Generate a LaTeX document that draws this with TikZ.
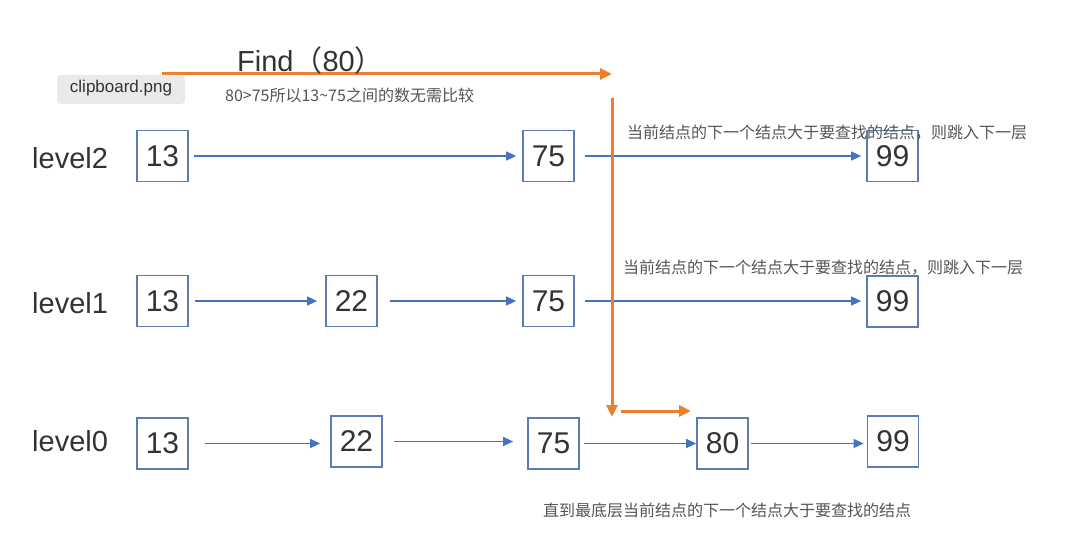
\documentclass[tikz,border=0pt]{standalone}
\usepackage{fontspec}
\setmainfont{Liberation Sans}
\newfontfamily\cjkf{Noto Sans CJK SC}
\usetikzlibrary{arrows.meta,shadows}
\definecolor{boxblue}{HTML}{5B7DB5}
\definecolor{arrblue}{HTML}{4472C4}
\definecolor{orng}{HTML}{ED7D31}
\definecolor{txtdark}{HTML}{333333}
\definecolor{txtgray}{HTML}{555555}
\definecolor{tipfill}{HTML}{ECE9EA}
\begin{document}
\begin{tikzpicture}[x=1pt,y=-1pt,
  nodebox/.style={draw=boxblue,line width=1.7pt,minimum width=51pt,minimum height=51pt,inner sep=0pt,text=txtdark,font=\fontsize{30}{34}\selectfont},
  lvl/.style={anchor=base west,inner sep=0pt,text=txtdark,font=\fontsize{29}{34}\selectfont},
  note/.style={anchor=west,inner sep=0pt,text=txtgray,font=\cjkf\fontsize{16}{18}\selectfont},
  barr/.style={draw=arrblue,line width=1.4pt,-{Triangle[length=10pt,width=9pt]}},
  oarr/.style={draw=orng,line width=3pt,-{Triangle[length=12pt,width=11pt]}},
  tooltip/.style={fill=tipfill,rounded corners=4pt,minimum width=128pt,minimum height=27pt,inner sep=0pt,text=txtdark,font=\fontsize{17}{20}\selectfont,drop shadow={opacity=0.18,shadow xshift=0pt,shadow yshift=-2pt}}]
\useasboundingbox[fill=white] (0,0) rectangle (1080,556);

% level labels
\node[lvl] (l2) at (32,169) {level2};
\node[lvl] (l1) at (32,313.5) {level1};
\node[lvl] (l0) at (32,451) {level0};

% level 2
\node[nodebox] (a13) at (162.5,156) {13};
\node[nodebox] (a75) at (548.5,156) {75};
\node[nodebox] (a99) at (892.5,156) {99};
% level 1
\node[nodebox] (b13) at (162.5,301) {13};
\node[nodebox] (b22) at (351.5,301) {22};
\node[nodebox] (b75) at (548.5,301) {75};
\node[nodebox] (b99) at (892.5,301.5) {99};
% level 0
\node[nodebox] (c13) at (162.5,443.5) {13};
\node[nodebox] (c22) at (356.5,441.5) {22};
\node[nodebox] (c75) at (553.5,443.5) {75};
\node[nodebox] (c80) at (722.5,443.5) {80};
\node[nodebox] (c99) at (893,441.5) {99};

% blue arrows (horizontal at the source's height)
\draw[barr,shorten <=5pt,shorten >=6pt] (a13.east) -- (a13.east -| a75.west);
\draw[barr,shorten <=10pt,shorten >=5pt] (a75.east) -- (a75.east -| a99.west);
\draw[barr,shorten <=6pt,shorten >=8pt] (b13.east) -- (b13.east -| b22.west);
\draw[barr,shorten <=12pt,shorten >=6pt] (b22.east) -- (b22.east -| b75.west);
\draw[barr,shorten <=10pt,shorten >=5pt] (b75.east) -- (b75.east -| b99.west);
\draw[barr,shorten <=16pt,shorten >=10pt] (c13.east) -- (c13.east -| c22.west);
\draw[barr,shorten <=11pt,shorten >=14pt] (c22.east) -- (c22.east -| c75.west);
\draw[barr,shorten <=4pt,shorten >=0pt] (c75.east) -- (c75.east -| c80.west);
\draw[barr,shorten <=2pt,shorten >=3pt] (c80.east) -- (c80.east -| c99.west);

% orange path
\coordinate (o1) at (162,74);
\coordinate (o2) at (612,74);
\coordinate (o3) at (612,98);
\coordinate (o4) at (612,417);
\coordinate (o5) at (621,411);
\coordinate (o6) at (691,411);
\draw[oarr] (o1) -- (o2);
\draw[oarr] (o3) -- (o4);
\draw[oarr] (o5) -- (o6);

% titles and notes
\node[lvl] (find) at (237,72) {Find{\cjkf（}80{\cjkf）}};
\node[note] (n0) at (225,95) {80>75所以13\textasciitilde75之间的数无需比较};
\node[note] (n1) at (627,133) {当前结点的下一个结点大于要查找的结点，则跳入下一层};
\node[note] (n2) at (623,268) {当前结点的下一个结点大于要查找的结点，则跳入下一层};
\node[note] (n3) at (543,510) {直到最底层当前结点的下一个结点大于要查找的结点};

% tooltip
\node[tooltip] (clip) at (121,88.5) {clipboard.png};
\end{tikzpicture}
\end{document}
